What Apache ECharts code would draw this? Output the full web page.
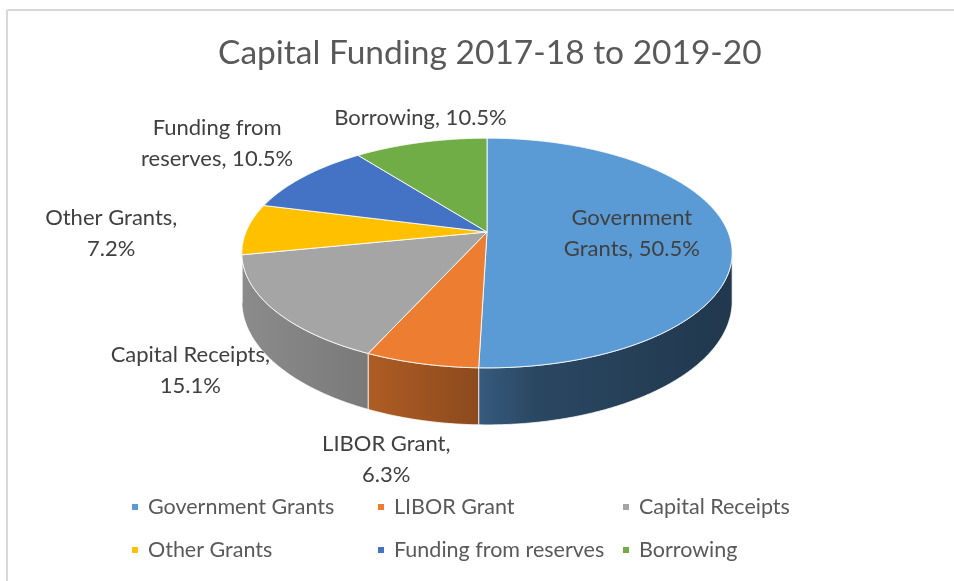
<!DOCTYPE html>
<html>
<head>
<meta charset="utf-8">
<script src="https://cdn.jsdelivr.net/npm/echarts@6/dist/echarts.min.js"></script>
<style>
html,body{margin:0;padding:0;background:#fff;}
#chart{width:954px;height:581px;}
</style>
</head>
<body>
<div id="chart"></div>
<script>
// ---- data ----
const categories = ['Government Grants', 'LIBOR Grant', 'Capital Receipts', 'Other Grants', 'Funding from reserves', 'Borrowing'];
const shares = [50.5, 6.3, 15.1, 7.2, 10.5, 10.5];
const labelTexts = ['Government\nGrants, 50.5%', 'LIBOR Grant,\n6.3%', 'Capital Receipts,\n15.1%', 'Other Grants,\n7.2%', 'Funding from\nreserves, 10.5%', 'Borrowing, 10.5%'];
const colors = ['#5B9BD5', '#ED7D31', '#A5A5A5', '#FFC000', '#4472C4', '#70AD47'];

// ---- style / geometry (not data) ----
const FONT = 'Lato, "Open Sans", sans-serif';
const CX = 487, CY = 232, RX = 241, RY = 111, P = 0.183, DEPTH = 46.6;
const WALL_FROM = 90 + Math.asin(P) * 180 / Math.PI;   // silhouette angles
const WALL_TO = 270 - Math.asin(P) * 180 / Math.PI;
const labelRho = [0.6, 1, 1, 1, 1, 1];
const labelOffset = [[0, 0], [-35, 96], [-84, 60], [-136, 4], [-87, -33], [0, -25]];

const total = shares.reduce((a, b) => a + b, 0);
const starts = [];
let acc = 0;
shares.forEach(v => { starts.push(acc / total * 360); acc += v; });

function proj(thetaDeg, rho, drop) {
  const t = thetaDeg * Math.PI / 180;
  const X = rho * Math.sin(t), Z = rho * Math.cos(t);
  const w = 1 + P * Z;
  return [CX + RX * X / w, CY - RY * Z / w + (drop || 0) / w];
}
function arc(a0, a1, drop) {
  const pts = [];
  const n = Math.max(2, Math.ceil(Math.abs(a1 - a0) / 0.5));
  for (let k = 0; k <= n; k++) pts.push(proj(a0 + (a1 - a0) * k / n, 1, drop));
  return pts;
}
function shade(hex, f) {
  const r = parseInt(hex.slice(1, 3), 16), g = parseInt(hex.slice(3, 5), 16), b = parseInt(hex.slice(5, 7), 16);
  return 'rgb(' + Math.round(r * f) + ',' + Math.round(g * f) + ',' + Math.round(b * f) + ')';
}

function renderItem(params, api) {
  const i = params.dataIndex;
  const v = api.value(0);
  const a0 = starts[i];
  const a1 = a0 + v / total * 360;
  const children = [];
  // side wall (visible front part)
  const w0 = Math.max(a0, WALL_FROM), w1 = Math.min(a1, WALL_TO);
  if (w1 > w0) {
    const top = arc(w0, w1, 0);
    const bot = arc(w0, w1, DEPTH).reverse();
    children.push({
      type: 'polygon', z2: 1,
      shape: { points: top.concat(bot) },
      style: {
        fill: new echarts.graphic.LinearGradient(243, 0, 732, 0, [
          { offset: 0, color: shade(colors[i], 0.84) },
          { offset: 0.25, color: shade(colors[i], 0.74) },
          { offset: 0.47, color: shade(colors[i], 0.6) },
          { offset: 0.6, color: shade(colors[i], 0.46) },
          { offset: 1, color: shade(colors[i], 0.36) }
        ], true),
        stroke: 'rgba(255,255,255,0.75)', lineWidth: 1
      }
    });
  }
  // top face
  children.push({
    type: 'polygon', z2: 2,
    shape: { points: [[CX, CY]].concat(arc(a0, a1, 0)) },
    style: { fill: colors[i], stroke: 'rgba(255,255,255,0.85)', lineWidth: 1 }
  });
  // label
  const mid = (a0 + a1) / 2;
  const p = proj(mid, labelRho[i], 0);
  children.push({
    type: 'text', z2: 10,
    style: {
      text: labelTexts[i],
      x: p[0] + labelOffset[i][0], y: p[1] + labelOffset[i][1],
      align: 'center', verticalAlign: 'middle',
      fill: '#404040', font: '22px ' + FONT, lineHeight: 31
    }
  });
  return { type: 'group', children: children };
}

const legendLeft = [132, 378, 623];
const legendTop = [494, 537];

const option = {
  animation: false,
  backgroundColor: '#fff',
  color: colors,
  title: {
    text: 'Capital Funding 2017-18 to 2019-20',
    left: 213, top: 31,
    textStyle: { fontFamily: FONT, fontSize: 33.5, fontWeight: 'normal', color: '#595959' }
  },
  legend: categories.map((c, i) => ({
    data: [c],
    left: legendLeft[i % 3], top: legendTop[Math.floor(i / 3)],
    padding: 0,
    icon: 'rect', itemWidth: 6, itemHeight: 6, selectedMode: false,
    textStyle: { fontFamily: FONT, fontSize: 21.5, color: '#595959', padding: [0, 0, 0, 5], lineHeight: 26 }
  })),
  graphic: [
    { type: 'line', shape: { x1: 7, y1: 10, x2: 954, y2: 10 }, style: { stroke: '#D9D9D9', lineWidth: 2 } },
    { type: 'line', shape: { x1: 7, y1: 10, x2: 7, y2: 581 }, style: { stroke: '#D9D9D9', lineWidth: 2 } }
  ],
  series: [
    {
      type: 'custom',
      coordinateSystem: 'none',
      renderItem: renderItem,
      data: shares.map((v, i) => ({ name: categories[i], value: [v] }))
    },
    {
      // invisible pie feeding the legend
      type: 'pie', radius: [0, 0], silent: true,
      label: { show: false }, labelLine: { show: false },
      data: shares.map((v, i) => ({ name: categories[i], value: v }))
    }
  ]
};

const chart = echarts.init(document.getElementById('chart'));
chart.setOption(option);
</script>
</body>
</html>
